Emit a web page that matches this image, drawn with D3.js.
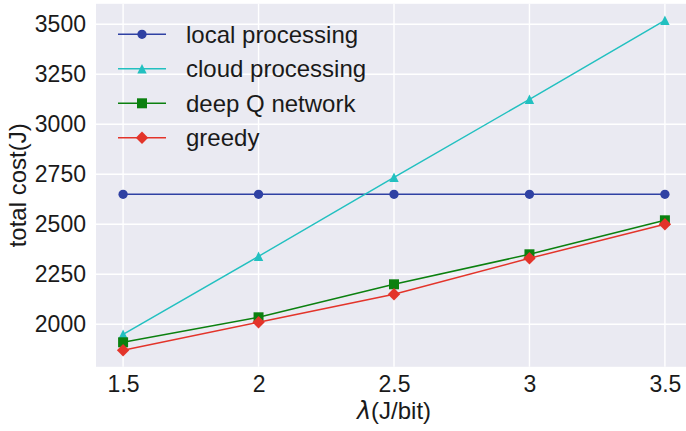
<!DOCTYPE html>
<html><head><meta charset="utf-8">
<script src="https://cdn.jsdelivr.net/npm/d3@7"></script>
<style>body{margin:0;background:#fff}svg{display:block}</style>
</head><body><svg id="c" width="686" height="431"></svg>
<script>
const lambdas = [1.5, 2, 2.5, 3, 3.5];
const xTickLabels = ["1.5", "2", "2.5", "3", "3.5"];
const yTicks = [2000, 2250, 2500, 2750, 3000, 3250, 3500];
const localProcessing = [2650, 2650, 2650, 2650, 2650];
const cloudProcessing = [1950, 2340, 2735, 3125, 3520];
const deepQNetwork = [1910, 2035, 2200, 2350, 2520];
const greedy = [1870, 2010, 2150, 2330, 2500];
const seriesNames = ["local processing", "cloud processing", "deep Q network", "greedy"];

const series = [
  {name: seriesNames[0], values: localProcessing, color: "#2f41a3", marker: "circle"},
  {name: seriesNames[1], values: cloudProcessing, color: "#22c0c0", marker: "triangle"},
  {name: seriesNames[2], values: deepQNetwork, color: "#0b800f", marker: "square"},
  {name: seriesNames[3], values: greedy, color: "#e3342a", marker: "diamond"}
];

const svg = d3.select("#c");
const L = 96, R = 692, T = 3.8, B = 366.8;
const x = d3.scaleLinear().domain([1.4, 3.6]).range([L, R]);
const y = d3.scaleLinear().domain([1787.5, 3602.5]).range([B, T]);
const font = "'Liberation Sans', Arial, sans-serif";

svg.append("rect").attr("x", L).attr("y", T).attr("width", R - L).attr("height", B - T).attr("fill", "#eaeaf2");

const g = svg.append("g");
g.selectAll(".gx").data(lambdas).enter().append("line")
  .attr("x1", d => x(d)).attr("x2", d => x(d)).attr("y1", T).attr("y2", B)
  .attr("stroke", "#fff").attr("stroke-width", 1.4);
g.selectAll(".gy").data(yTicks).enter().append("line")
  .attr("x1", L).attr("x2", R).attr("y1", d => y(d)).attr("y2", d => y(d))
  .attr("stroke", "#fff").attr("stroke-width", 1.4);

const xAxis = svg.append("g").attr("transform", `translate(0,${B})`)
  .call(d3.axisBottom(x).tickValues(lambdas).tickFormat((d, i) => xTickLabels[i]).tickSize(0).tickPadding(9));
const yAxis = svg.append("g").attr("transform", `translate(${L},0)`)
  .call(d3.axisLeft(y).tickValues(yTicks).tickFormat(d3.format("d")).tickSize(0).tickPadding(10));
[xAxis, yAxis].forEach(a => {
  a.select(".domain").remove();
  a.selectAll("text").attr("font-family", font).attr("font-size", 23).attr("fill", "#1a1a1a");
});

const xl = svg.append("text").attr("x", (L + R) / 2).attr("y", 419).attr("text-anchor", "middle")
  .attr("font-family", font).attr("font-size", 24).attr("fill", "#1a1a1a");
xl.append("tspan").attr("font-family", "'DejaVu Sans', sans-serif").attr("font-style", "italic").text("λ");
xl.append("tspan").text("(J/bit)");
svg.append("text").attr("transform", `translate(26,${(T + B) / 2}) rotate(-90)`).attr("text-anchor", "middle")
  .attr("font-family", font).attr("font-size", 24).attr("fill", "#1a1a1a").text("total cost(J)");

function markerPath(type) {
  if (type === "circle") return d3.symbol().type(d3.symbolCircle).size(68)();
  if (type === "square") return "M-5,-5H5V5H-5Z";
  if (type === "triangle") return "M0,-4.7L4.7,4.7L-4.7,4.7Z";
  return "M0,-6.2L6.2,0L0,6.2L-6.2,0Z";
}

const line = d3.line().x((d, i) => x(lambdas[i])).y(d => y(d));
series.forEach(s => {
  svg.append("path").attr("d", line(s.values)).attr("fill", "none").attr("stroke", s.color).attr("stroke-width", 1.5);
  svg.selectAll(null).data(s.values).enter().append("path")
    .attr("d", markerPath(s.marker))
    .attr("transform", (d, i) => `translate(${x(lambdas[i])},${y(d)})`)
    .attr("fill", s.color);
});

const leg = svg.append("g");
series.forEach((s, i) => {
  const yy = 34.3 + i * 34.5;
  leg.append("line").attr("x1", 118).attr("x2", 166).attr("y1", yy).attr("y2", yy).attr("stroke", s.color).attr("stroke-width", 1.5);
  leg.append("path").attr("d", markerPath(s.marker))
    .attr("transform", `translate(142,${yy})`)
    .attr("fill", s.color);
  leg.append("text").attr("x", 186).attr("y", yy + 8.5).attr("font-family", font).attr("font-size", 24)
    .attr("fill", "#1a1a1a").text(s.name);
});
</script></body></html>
